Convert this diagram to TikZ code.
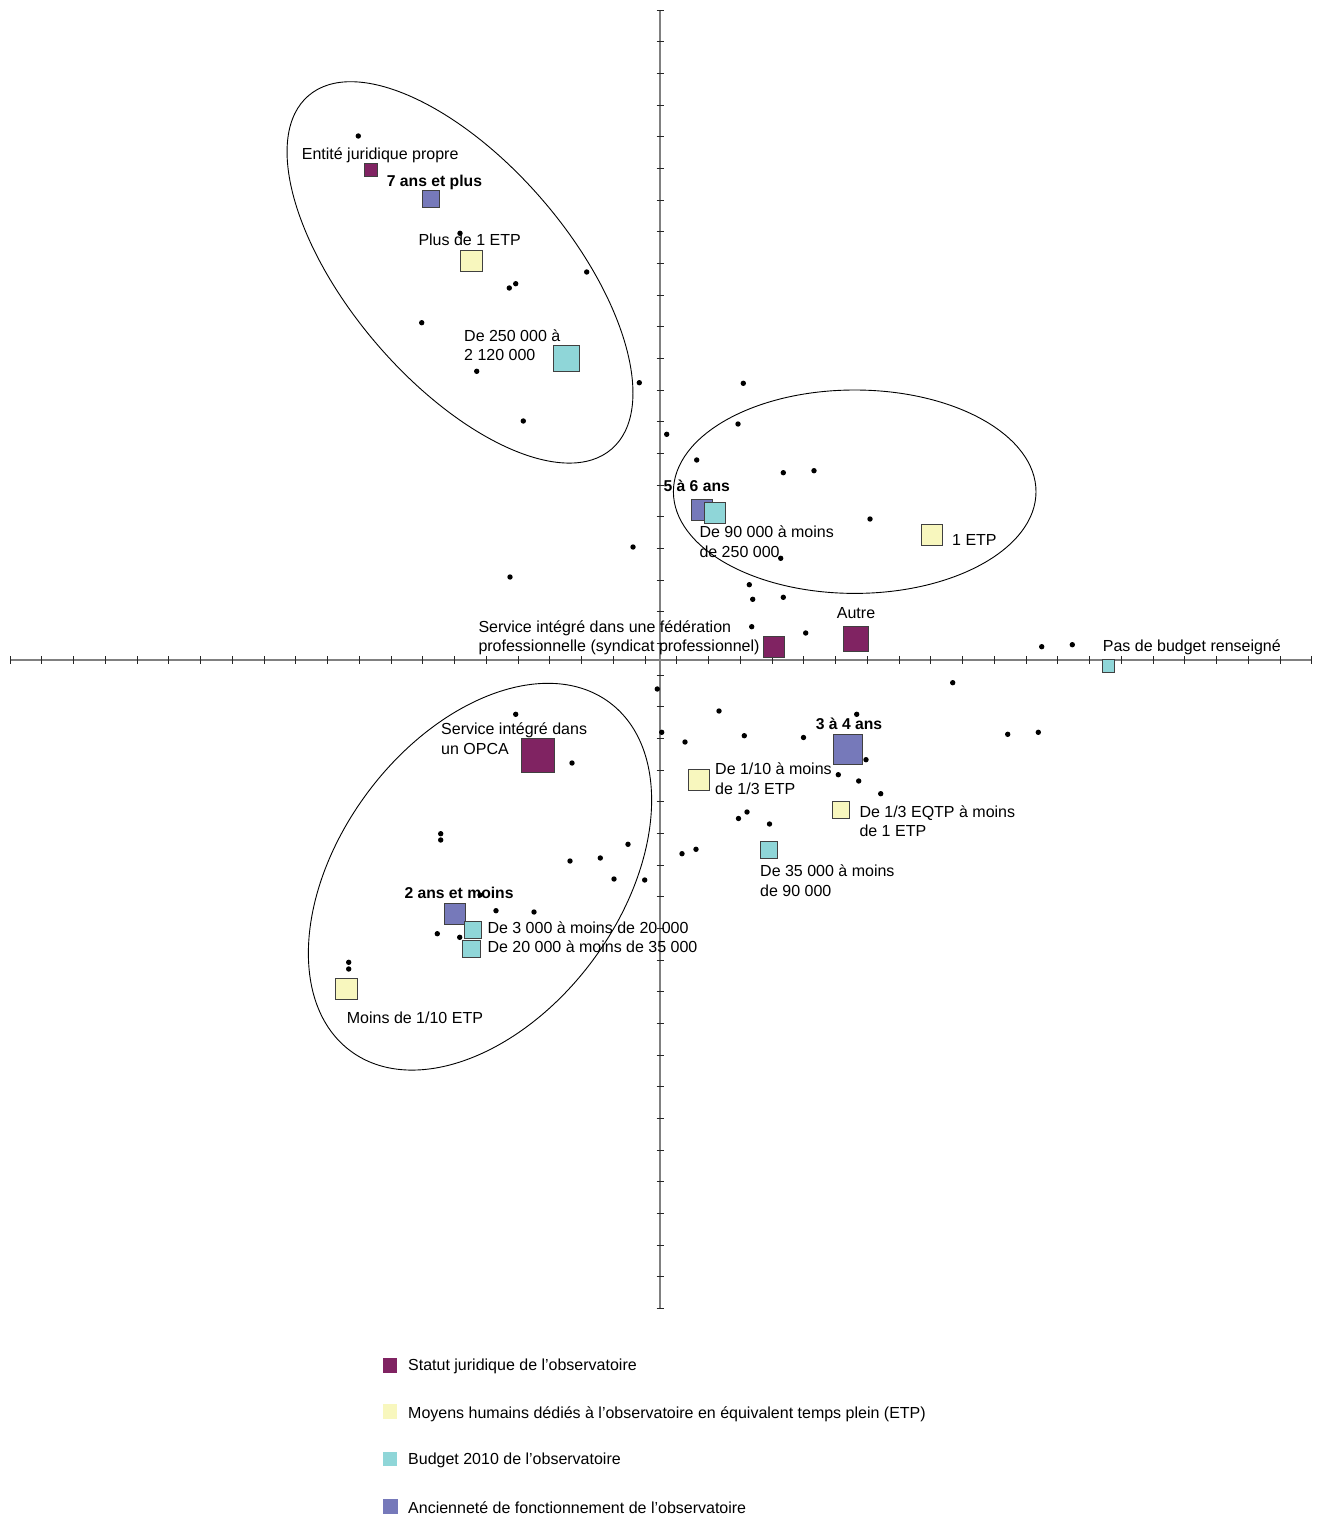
\documentclass[tikz,border=0pt]{standalone}
\usepackage{fontspec}
\setmainfont{Liberation Sans}
\definecolor{cpurple}{RGB}{128,35,98}
\definecolor{cyellow}{RGB}{248,247,190}
\definecolor{ccyan}{RGB}{143,214,216}
\definecolor{cblue}{RGB}{118,121,186}
\definecolor{caxis}{RGB}{128,128,128}
\tikzset{
  axisline/.style={draw=caxis, line width=1.5pt},
  tickmark/.style={draw=black!85, line width=0.9pt},
  ell/.style={draw=black, line width=0.9pt},
  dotmark/.style={circle, fill=black, inner sep=0pt, minimum size=5.4pt},
  sq/.style={rectangle, draw=black!75, line width=0.9pt, inner sep=0pt, minimum size=#1},
  lab/.style={inner sep=0pt, align=left, anchor=base west, font=\fontsize{16}{19.7}\selectfont},
  labb/.style={lab, font=\fontsize{15.7}{19.7}\selectfont\bfseries},
  leglab/.style={lab, font=\fontsize{16}{19.7}\selectfont},
  legsq/.style={rectangle, inner sep=0pt, minimum size=14.5pt},
}
\begin{document}
\begin{tikzpicture}[x=1pt, y=-1pt]
\useasboundingbox[fill=white] (0,0) rectangle (1341,1517);
% axes
\coordinate (hl) at (10,660); \coordinate (hr) at (1312,660);
\coordinate (vt) at (660,10); \coordinate (vb) at (660,1308.5);
\draw[axisline] (hl) -- (hr);
\draw[axisline] (vt) -- (vb);
\foreach \k in {0,...,41}{
  \draw[tickmark] ({10+\k*31.75},656) -- ({10+\k*31.75},664);
  \draw[tickmark] (656.5,{10+\k*31.67}) -- (663.5,{10+\k*31.67});
}
% ellipses
\draw[ell, rotate around={-49.4:(460,272.4)}] (460,272.4) ellipse [x radius=232.8pt, y radius=109.8pt];
\draw[ell] (854.7,491.7) ellipse [x radius=181.3pt, y radius=101.7pt];
\draw[ell, rotate around={53.4:(480,876.7)}] (480,876.7) ellipse [x radius=217.1pt, y radius=140.4pt];
% dots
\foreach \x/\y [count=\i] in {358.3/136, 460/233.3, 515.7/283.7, 509.3/288, 586.7/272, 421.7/322.7, 476.7/371.3, 523.3/421, 639.3/382.7,
743.3/383.3, 666.7/434.3, 738/424, 696.7/460, 783.3/472.7, 814/470.7, 870/519, 780.7/558.3, 633/547, 510/577, 749.3/584.7, 752.7/599.3, 783.3/597.3, 751.7/626.7, 805.7/633,
1041.7/646.7, 1072.3/644.7, 952.7/682.7, 657.3/689, 719/711, 515.7/714.3, 661.7/732.3, 685/742, 744.3/735.7, 803.5/737.5, 856.7/714.3, 572/763, 866/759.7, 838.3/774.7, 858.7/781, 880.7/793.7, 1007.7/734.3, 1038.3/732.3,
738.5/818.5, 747/812, 769.5/824, 696/849.3, 682/853.7, 628/844.3, 600.3/858, 570/861, 614/879, 644.7/880, 440.7/833.7, 440.7/840, 496/910.7, 534/912, 480/895, 437.3/933.7, 459.7/937.3, 348.7/962.3, 348.7/969}
  \node[dotmark] (d\i) at (\x,\y) {};
% squares
\node[sq=13pt, fill=cpurple] (entite) at (370.8,170.2) {};
\node[sq=17pt, fill=cblue] (sept) at (431,199.3) {};
\node[sq=21.5pt, fill=cyellow] (plus1) at (471.2,260.7) {};
\node[sq=25.6pt, fill=ccyan] (b250) at (566.5,358.7) {};
\node[sq=21.3pt, fill=cblue] (cinq) at (702,509.7) {};
\node[sq=21.3pt, fill=ccyan] (b90) at (714.7,513) {};
\node[sq=21.3pt, fill=cyellow] (etp1) at (932,535) {};
\node[sq=20.7pt, fill=cpurple] (fede) at (774,647) {};
\node[sq=25.3pt, fill=cpurple] (autre) at (855.7,638.7) {};
\node[sq=12.7pt, fill=ccyan] (pasb) at (1108.3,665.8) {};
\node[sq=29.5pt, fill=cblue] (trois) at (848,749.2) {};
\node[sq=17.3pt, fill=cyellow] (tiers) at (840.7,809.7) {};
\node[sq=33.7pt, fill=cpurple] (opca) at (538,755.7) {};
\node[sq=21pt, fill=cyellow] (dixieme) at (698.8,780) {};
\node[sq=17pt, fill=ccyan] (b35) at (768.5,849.5) {};
\node[sq=21pt, fill=cblue] (deux) at (455.3,914) {};
\node[sq=17pt, fill=ccyan] (b3) at (472.5,930) {};
\node[sq=17.3pt, fill=ccyan] (b20) at (471.3,949) {};
\node[sq=21.5pt, fill=cyellow] (moins) at (346.5,988.8) {};
% labels (multi-line labels are anchored at the baseline of their last line)
\node[lab] (lentite) at (301.7,159.3) {Entité juridique propre};
\node[labb] (lsept) at (386.7,186) {7 ans et plus};
\node[lab] (lplus1) at (418.3,245) {Plus de 1 ETP};
\node[lab] (lb250) at (464,360.7) {De 250 000 à\\2 120 000};
\node[labb] (lcinq) at (663.3,491) {5 à 6 ans};
\node[lab] (lb90) at (699.3,557) {De 90 000 à moins\\de 250 000};
\node[lab] (letp1) at (952,545) {1 ETP};
\node[lab] (lautre) at (836.7,618.3) {Autre};
\node[lab] (lfede) at (478.3,651.7) {Service intégré dans une fédération\\professionnelle (syndicat professionnel)};
\node[lab] (lpasb) at (1102.7,651.7) {Pas de budget renseigné};
\node[labb] (ltrois) at (815.7,729.3) {3 à 4 ans};
\node[lab] (lopca) at (441,754) {Service intégré dans\\un OPCA};
\node[lab] (ldixieme) at (715,794) {De 1/10 à moins\\de 1/3 ETP};
\node[lab] (ltiers) at (859.3,836.7) {De 1/3 EQTP à moins\\de 1 ETP};
\node[lab] (lb35) at (760,896) {De 35 000 à moins\\de 90 000};
\node[labb] (ldeux) at (404.3,898.3) {2 ans et moins};
\node[lab] (lb3) at (487.3,933.3) {De 3 000 à moins de 20 000};
\node[lab] (lb20) at (487.3,952.3) {De 20 000 à moins de 35 000};
\node[lab] (lmoins) at (346.7,1023.3) {Moins de 1/10 ETP};
% legend
\node[legsq, fill=cpurple] (leg1) at (390,1365.3) {};
\node[legsq, fill=cyellow] (leg2) at (390,1411.7) {};
\node[legsq, fill=ccyan] (leg3) at (390,1458.8) {};
\node[legsq, fill=cblue] (leg4) at (390.7,1506.3) {};
\node[leglab] (lleg1) at (408,1370.7) {Statut juridique de l’observatoire};
\node[leglab] (lleg2) at (408,1418.3) {Moyens humains dédiés à l’observatoire en équivalent temps plein (ETP)};
\node[leglab] (lleg3) at (408,1464) {Budget 2010 de l’observatoire};
\node[leglab] (lleg4) at (408,1513.3) {Ancienneté de fonctionnement de l’observatoire};
\end{tikzpicture}
\end{document}
